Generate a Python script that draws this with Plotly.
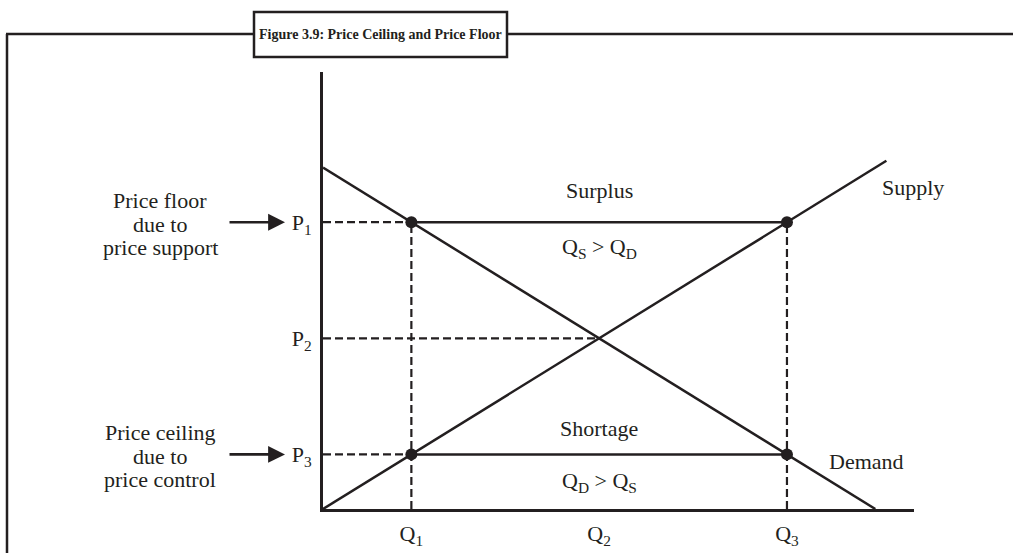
import plotly.graph_objects as go

# ---- data (arbitrary economic units) ----
demand_q = [0, 10]
demand_p = [10, 0]
supply_q = [0, 10.2]
supply_p = [0, 10.2]
prices = [8.4, 5.0, 1.6]          # P1, P2, P3
quantities = [1.6, 5.0, 8.4]      # Q1, Q2, Q3
price_labels = ["P<sub>1</sub>", "P<sub>2</sub>", "P<sub>3</sub>"]
qty_labels = ["Q<sub>1</sub>", "Q<sub>2</sub>", "Q<sub>3</sub>"]
title_text = "Figure 3.9: Price Ceiling and Price Floor"
floor_lines = ["Price floor", "due to", "price support"]
ceiling_lines = ["Price ceiling", "due to", "price control"]

FIG_W, FIG_H = 1013, 553
L, R, T, B = 323, 99, 72, 44
PW, PH = FIG_W - L - R, FIG_H - T - B
X_MAX, Y_MAX = 10.7, 12.8

FONT = "Liberation Serif"
INK = "#231f20"
LW = 2.5
FS = 22


def px(xp):
    return (xp - L) / PW


def py(yp):
    return (FIG_H - B - yp) / PH


P1, P2, P3 = prices
Q1, Q2, Q3 = quantities

fig = go.Figure()

line_style = dict(color=INK, width=LW)
dash_style = dict(color=INK, width=2.2, dash="8px,4px")

# demand and supply
fig.add_trace(go.Scatter(x=demand_q, y=demand_p, mode="lines", line=line_style, hoverinfo="skip"))
fig.add_trace(go.Scatter(x=supply_q, y=supply_p, mode="lines", line=line_style, hoverinfo="skip"))

# dashed guides
fig.add_trace(go.Scatter(x=[0, Q1], y=[P1, P1], mode="lines", line=dash_style, hoverinfo="skip"))
fig.add_trace(go.Scatter(x=[0, Q2], y=[P2, P2], mode="lines", line=dash_style, hoverinfo="skip"))
fig.add_trace(go.Scatter(x=[0, Q1], y=[P3, P3], mode="lines", line=dash_style, hoverinfo="skip"))
fig.add_trace(go.Scatter(x=[Q1, Q1], y=[0, P1], mode="lines", line=dash_style, hoverinfo="skip"))
fig.add_trace(go.Scatter(x=[Q3, Q3], y=[0, P1], mode="lines", line=dash_style, hoverinfo="skip"))

# solid price lines
fig.add_trace(go.Scatter(x=[Q1, Q3], y=[P1, P1], mode="lines", line=line_style, hoverinfo="skip"))
fig.add_trace(go.Scatter(x=[Q1, Q3], y=[P3, P3], mode="lines", line=line_style, hoverinfo="skip"))

# dots
fig.add_trace(go.Scatter(x=[Q1, Q3, Q1, Q3], y=[P1, P1, P3, P3], mode="markers",
                         marker=dict(color=INK, size=12), hoverinfo="skip"))

ann = []


def txt(x, y, text, size=FS, xref="x", yref="y", **kw):
    ann.append(dict(x=x, y=y, xref=xref, yref=yref, text=text, showarrow=False,
                    xanchor="center", yanchor="middle",
                    font=dict(family=FONT, size=size, color=INK), **kw))


txt(Q2, P1, "Surplus", yshift=32)
txt(Q2, P1, "Q<sub>S</sub> &gt; Q<sub>D</sub>", yshift=-26)
txt(Q2, P3, "Shortage", yshift=26)
txt(Q2, P3, "Q<sub>D</sub> &gt; Q<sub>S</sub>", yshift=-28)
txt(supply_q[-1], supply_p[-1], "Supply", xshift=27, yshift=-27)
txt(Q3, P3, "Demand", xshift=80, yshift=-7)

# left side explanations with arrows
for yv, lines in [(P1, floor_lines), (P3, ceiling_lines)]:
    for i, s in enumerate(lines):
        txt(px(160), yv, s, xref="paper", yshift=23.5 * (1 - i) - 2)
    ann.append(dict(x=px(285), y=yv, xref="paper", yref="y", ax=-57, ay=0,
                    axref="pixel", ayref="pixel", text="", showarrow=True,
                    arrowhead=2, arrowsize=1.3, arrowwidth=2.6, arrowcolor=INK,
                    standoff=0))

# title box and frame
shapes = [
    dict(type="line", xref="paper", yref="paper", x0=px(7), x1=px(7), y0=py(34), y1=py(560),
         line=dict(color=INK, width=LW)),
    dict(type="line", xref="paper", yref="paper", x0=px(6), x1=px(254), y0=py(34), y1=py(34),
         line=dict(color=INK, width=LW)),
    dict(type="line", xref="paper", yref="paper", x0=px(507), x1=px(1020), y0=py(34), y1=py(34),
         line=dict(color=INK, width=LW)),
    dict(type="rect", xref="paper", yref="paper", x0=px(254), x1=px(507), y0=py(12), y1=py(57),
         line=dict(color=INK, width=LW), fillcolor="white"),
]
txt(px(380.5), py(35), "<b>" + title_text + "</b>", size=14, xref="paper", yref="paper")

fig.update_layout(
    width=FIG_W, height=FIG_H,
    margin=dict(l=L, r=R, t=T, b=B, autoexpand=False),
    paper_bgcolor="white", plot_bgcolor="white",
    showlegend=False,
    annotations=ann, shapes=shapes,
    xaxis=dict(range=[0, X_MAX], showgrid=False, zeroline=False, showline=True,
               automargin=False,
               linecolor=INK, linewidth=3, ticks="", tickvals=quantities, ticktext=qty_labels,
               tickfont=dict(family=FONT, size=FS, color=INK), ticklabelstandoff=3,
               fixedrange=True),
    yaxis=dict(range=[0, Y_MAX], showgrid=False, zeroline=False, showline=True,
               automargin=False,
               linecolor=INK, linewidth=3, ticks="", tickvals=prices, ticktext=price_labels,
               tickfont=dict(family=FONT, size=FS, color=INK), ticklabelstandoff=4,
               fixedrange=True),
)

fig.write_html("out.html", config={"displayModeBar": False},
               post_script="document.body.style.margin='0';document.body.style.overflow='hidden';")
